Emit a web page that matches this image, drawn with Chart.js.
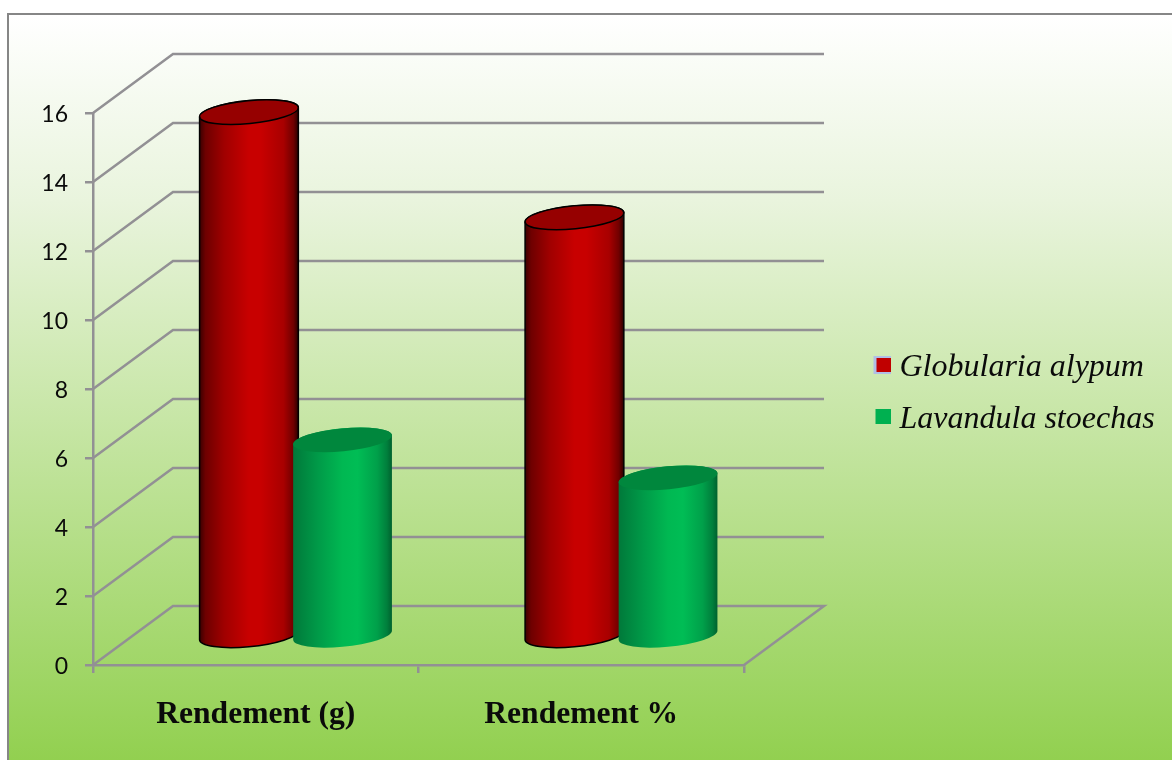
<!DOCTYPE html>
<html><head><meta charset="utf-8">
<script src="https://cdn.jsdelivr.net/npm/chart.js@4"></script>
<style>
html,body{margin:0;padding:0;background:#fff;overflow:hidden;width:1172px;height:760px}
#bg{position:absolute;left:7px;top:13px;width:1165px;height:745px;border:solid #868686;border-width:2px 0 0 2px;
background:linear-gradient(180deg,#ffffff 0%,#e9f4dd 25%,#92d050 100%)}
#wrap{position:absolute;left:0;top:0;width:1172px;height:760px}
</style></head><body>
<div id="bg"></div>
<div id="wrap"><canvas id="c" width="1172" height="760"></canvas></div>
<script>
const categories = ['Rendement (g)', 'Rendement %'];
const seriesNames = ['Globularia alypum', 'Lavandula stoechas'];
const globularia = [15.2, 12.15];
const lavandula = [5.7, 4.6];
const yMin = 0, yMax = 16, yStep = 2;

const GRID = '#929094';
const WALL = {dx: 80, dy: 59};
const DEPTH = {dx: 40, dy: 28.5};
const looks = [
  {solid:'#c00000', ring:'#b0bfe6', top:'#960000', edge:'#000000',
   stops:[[0,'#3a0000'],[0.06,'#6e0000'],[0.25,'#a00000'],[0.5,'#c80000'],[0.62,'#c80000'],[0.85,'#a80000'],[0.95,'#700000'],[1,'#2a0000']]},
  {solid:'#00b050', ring:null, top:'#00873d', edge:null,
   stops:[[0,'#00793a'],[0.25,'#009a48'],[0.5,'#00b852'],[0.65,'#00bd55'],[0.85,'#00a04a'],[0.95,'#007f3c'],[1,'#00612e']]}
];

function marker(color, ring){
  const c = document.createElement('canvas');
  c.width = 23; c.height = 24;
  const g = c.getContext('2d');
  if(ring){ g.fillStyle = ring; g.fillRect(6,0,17,18); g.fillStyle = color; g.fillRect(9,2,14,14); }
  else { g.fillStyle = color; g.fillRect(8,1,15,15); }
  return c;
}

const plug = {
  id:'cyl',
  beforeLayout(chart){
    const lg = chart.legend;
    if(lg && !lg._patched){
      const f = lg.fit;
      lg.fit = function(){ f.call(this); this.width = 428; };
      lg._patched = true;
    }
  },
  afterLayout(chart){
    const lg = chart.legend; if(!lg) return;
    const w = 300, pad = lg.options.labels.padding;
    lg.left = 874.5 - pad; lg.right = lg.left + w;
    const dy = 394 - (lg.top + lg.bottom)/2;
    lg.top += dy; lg.bottom += dy;
  },
  beforeDatasetsDraw(chart){
    const {ctx, chartArea:a, scales:{y}} = chart;
    ctx.save();
    ctx.strokeStyle = GRID; ctx.lineWidth = 2.5; ctx.lineJoin='miter';
    y.ticks.forEach(t=>{
      const py = y.getPixelForValue(t.value);
      ctx.beginPath();
      ctx.moveTo(a.left, py);
      ctx.lineTo(a.left+WALL.dx, py-WALL.dy);
      ctx.lineTo(a.right+WALL.dx, py-WALL.dy);
      if(t.value===yMin){ ctx.lineTo(a.right, py); }
      ctx.stroke();
    });
    ctx.restore();
  },
  beforeDatasetDraw(){ return false; },
  afterDatasetsDraw(chart){
    const ctx = chart.ctx;
    const phi = -5.5*Math.PI/180;
    [0,1].forEach(i=>{
      const look = looks[i];
      chart.getDatasetMeta(i).data.forEach(el=>{
        const cx = el.x + DEPTH.dx, rx = el.width/2, ry = 11.5;
        const ty = el.y - DEPTH.dy, by = el.base - DEPTH.dy;
        const t0 = Math.atan2(-ry*Math.sin(phi), rx*Math.cos(phi));
        const px = rx*Math.cos(t0)*Math.cos(phi) - ry*Math.sin(t0)*Math.sin(phi);
        const py = rx*Math.cos(t0)*Math.sin(phi) + ry*Math.sin(t0)*Math.cos(phi);
        const g = ctx.createLinearGradient(cx-px,0,cx+px,0);
        look.stops.forEach(s=>g.addColorStop(s[0],s[1]));
        ctx.save();
        ctx.beginPath();
        ctx.moveTo(cx+px, ty+py);
        ctx.lineTo(cx+px, by+py);
        ctx.ellipse(cx, by, rx, ry, phi, t0, t0+Math.PI, false);
        ctx.lineTo(cx-px, ty-py);
        ctx.ellipse(cx, ty, rx, ry, phi, t0+Math.PI, t0+2*Math.PI, false);
        ctx.closePath();
        ctx.fillStyle = g; ctx.fill();
        if(look.edge){ ctx.strokeStyle = look.edge; ctx.lineWidth = 1.5; ctx.stroke(); }
        ctx.beginPath();
        ctx.ellipse(cx, ty, rx, ry, phi, 0, 2*Math.PI);
        ctx.fillStyle = look.top; ctx.fill();
        if(look.edge){ ctx.strokeStyle = look.edge; ctx.lineWidth = 1.5; ctx.stroke(); }
        ctx.restore();
      });
    });
  }
};

new Chart(document.getElementById('c'), {
  type:'bar',
  plugins:[plug],
  data:{
    labels:categories,
    datasets:[
      {label:seriesNames[0], data:globularia, backgroundColor:looks[0].solid, barPercentage:1.06, categoryPercentage:0.575},
      {label:seriesNames[1], data:lavandula, backgroundColor:looks[1].solid, barPercentage:1.06, categoryPercentage:0.575}
    ]
  },
  options:{
    responsive:false, animation:false, devicePixelRatio:1,
    layout:{padding:{left:0,right:0,top:113,bottom:0}},
    plugins:{
      tooltip:{enabled:false},
      title:{display:false},
      legend:{
        position:'right', align:'center',
        labels:{
          color:'#0a0a0a', padding:20, boxWidth:9, boxHeight:15, usePointStyle:true,
          font:{family:'"Liberation Serif"', style:'italic', size:32},
          generateLabels(chart){
            const items = Chart.defaults.plugins.legend.labels.generateLabels(chart);
            items.forEach((it,i)=>{ it.pointStyle = marker(looks[i].solid, looks[i].ring); });
            return items;
          }
        }
      }
    },
    scales:{
      x:{
        afterFit(s){ s.height = 95; },
        border:{color:GRID,width:2.5},
        grid:{color:GRID,lineWidth:2.5,drawOnChartArea:false,tickLength:8,offset:true},
        ticks:{color:'#0a0a0a',padding:23,maxRotation:0,font:{family:'"Liberation Serif"',weight:'bold',size:31.6}}
      },
      y:{
        min:yMin,max:yMax,
        afterFit(s){ s.width = 93; },
        border:{color:GRID,width:2.5},
        grid:{color:GRID,lineWidth:2.5,drawOnChartArea:false,tickLength:8},
        ticks:{stepSize:yStep,color:'#0a0a0a',padding:17,labelOffset:1.5,font:{family:'Lato',size:23}}
      }
    }
  }
});
</script>
</body></html>
